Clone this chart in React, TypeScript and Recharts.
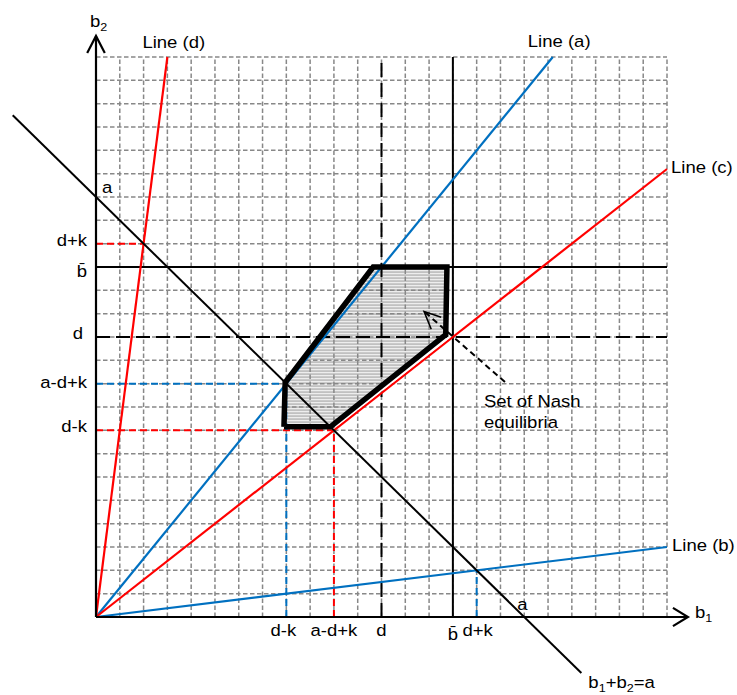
import React from 'react';
import { ComposedChart, XAxis, YAxis, Line, Area, ReferenceDot } from 'recharts';

// ---- chart size & value window (grid units) ----
const W = 737;
const H = 695;
const X_DOMAIN: [number, number] = [-4.035, 26.942];
const Y_DOMAIN: [number, number] = [-3.343, 26.443];

// ---- model parameters (grid units) ----
const A = 18;
const D = 12;
const K = 4;
const B_BAR = 15;

// ---- grid ----
const gridTicks = [1, 2, 3, 4, 5, 6, 7, 8, 9, 10, 11, 12, 13, 14, 15, 16, 17, 18, 19, 20, 21, 22, 23, 24];
const GRID_MAX = 24;

// ---- tick labels ----
const xTickValues = [8, 10, 12, 15, 16];
const xTickLabels = ['d-k', 'a-d+k', 'd', 'b\u0304', 'd+k'];
const yTickValues = [16, 15, 12, 10, 8];
const yTickLabels = ['d+k', 'b\u0304', 'd', 'a-d+k', 'd-k'];

// ---- lines through origin ----
const lineA = [{ x: 0, y: 0 }, { x: 19.2, y: 24 }];
const lineB = [{ x: 0, y: 0 }, { x: 24, y: 3 }];
const lineC = [{ x: 0, y: 0 }, { x: 24, y: 19.2 }];
const lineD = [{ x: 0, y: 0 }, { x: 3, y: 24 }];
// b1 + b2 = a
const sumLine = [{ x: -3.5, y: 21.5 }, { x: 20.4, y: -2.4 }];

// ---- guide lines ----
const bBarH = [{ x: 0, y: B_BAR }, { x: 24, y: B_BAR }];
const bBarV = [{ x: B_BAR, y: 0 }, { x: B_BAR, y: 24 }];
const dH = [{ x: 0, y: D }, { x: 24, y: D }];
const dV = [{ x: D, y: 0 }, { x: D, y: 24 }];
const redDashTop = [{ x: 0, y: D + K }, { x: 2, y: D + K }];
const redDashLowH = [{ x: 0, y: D - K }, { x: A - D + K, y: D - K }];
const redDashLowV = [{ x: A - D + K, y: 0 }, { x: A - D + K, y: D - K }];
const blueDashH = [{ x: 0, y: A - D + K }, { x: D - K, y: A - D + K }];
const blueDashV = [{ x: D - K, y: 0 }, { x: D - K, y: A - D + K }];
const blueDashRight = [{ x: D + K, y: 0 }, { x: D + K, y: 2 }];

// ---- axes ----
const xAxisLine = [{ x: 0, y: 0 }, { x: 24.88, y: 0 }];
const yAxisLine = [{ x: 0, y: 0 }, { x: 0, y: 24.9 }];
const xArrow = [{ x: 24.25, y: 0.39 }, { x: 24.88, y: 0 }, { x: 24.25, y: -0.39 }];
const yArrow = [{ x: -0.37, y: 24.17 }, { x: 0, y: 24.9 }, { x: 0.37, y: 24.17 }];

// ---- set of Nash equilibria ----
const nashVertices = [
  { x: 7.9, y: 8.15 },
  { x: 7.95, y: 10.05 },
  { x: 11.65, y: 15 },
  { x: 14.75, y: 15 },
  { x: 14.7, y: 12.1 },
  { x: 9.85, y: 8.15 },
  { x: 7.9, y: 8.15 },
];
const nashFill = [
  { x: 7.9, range: [8.15, 10.0] },
  { x: 9.85, range: [8.15, 12.55] },
  { x: 11.65, range: [9.62, 15] },
  { x: 14.72, range: [12.1, 15] },
];
const nashGap = [{ x: 10.15, y: 8.24 }, { x: 14.95, y: 12.08 }];
const pointerLine = [{ x: 17.19, y: 10.07 }, { x: 13.83, y: 13.06 }];
const pointerHead = [{ x: 14.51, y: 12.85 }, { x: 13.79, y: 13.09 }, { x: 14.09, y: 12.33 }];

const vGrid = gridTicks.flatMap((t) => [{ x: t, y: 0 }, { x: t, y: GRID_MAX }, { x: t, y: null }]);
const hGrid = gridTicks.flatMap((t) => [{ x: 0, y: t }, { x: GRID_MAX, y: t }, { x: GRID_MAX, y: null }]);

const FONT = "'Liberation Sans', Arial, Helvetica, sans-serif";
const FS = 17;
const SX = 1.09;
const BLUE = '#0070C0';
const RED = '#FF0000';

function labelAt(content: React.ReactNode, dx: number, dy: number, anchor: string = 'start') {
  return (props: any) => {
    const vb = props.viewBox || {};
    const x = (vb.x ?? 0) + (vb.width ?? 0) / 2 + dx;
    const y = (vb.y ?? 0) + (vb.height ?? 0) / 2 + dy;
    return (
      <text
        transform={`translate(${x},${y}) scale(${SX},1)`}
        textAnchor={anchor as any}
        fontFamily={FONT}
        fontSize={FS}
        fill="#000"
      >
        {content}
      </text>
    );
  };
}

function Txt(key: string, x: number, y: number, content: React.ReactNode, dx: number, dy: number, anchor = 'start') {
  return (
    <ReferenceDot
      key={key}
      x={x}
      y={y}
      r={0}
      fill="none"
      stroke="none"
      ifOverflow="visible"
      label={labelAt(content, dx, dy, anchor)}
    />
  );
}

function Seg(key: string, data: any[], stroke: string, width: number, dash?: string, join: any = 'round') {
  return (
    <Line
      key={key}
      data={data}
      dataKey="y"
      stroke={stroke}
      strokeWidth={width}
      strokeDasharray={dash}
      strokeLinejoin={join}
      strokeLinecap="butt"
      dot={false}
      activeDot={false}
      legendType="none"
      isAnimationActive={false}
      type="linear"
    />
  );
}

const sub = (s: string) => (
  <tspan fontSize={11.5} dy={4}>
    {s}
  </tspan>
);

const yTickDx: Record<string, number> = { 'd+k': -9, 'b\u0304': -9, d: -13, 'a-d+k': -9, 'd-k': -9 };
const yTickDy: Record<string, number> = { 'd+k': 2, 'b\u0304': 10, d: 2, 'a-d+k': 4, 'd-k': 2 };
const xTickDx: Record<string, number> = { 'd-k': -3, 'a-d+k': 0, d: 0, 'b\u0304': 0, 'd+k': 1 };
const xTickDy: Record<string, number> = { 'd-k': 19, 'a-d+k': 19, d: 19, 'b\u0304': 23, 'd+k': 19 };

export default function App() {
  return (
    <div style={{ position: 'absolute', left: 0, top: 0, width: W, height: H, background: '#fff' }}>
      <ComposedChart width={W} height={H} margin={{ top: 0, right: 0, bottom: 0, left: 0 }}>
        <defs>
          <pattern id="nashHatch" patternUnits="userSpaceOnUse" width="6" height="3">
            <rect width="6" height="3" fill="#bcbcbc" />
            <rect y="0" width="6" height="1.2" fill="#ececec" />
          </pattern>
        </defs>
        <XAxis type="number" dataKey="x" domain={X_DOMAIN} allowDataOverflow hide />
        <YAxis type="number" domain={Y_DOMAIN} allowDataOverflow hide />

        {Seg('vgrid', vGrid, '#888888', 1.5, '4.5 2.5')}
        {Seg('hgrid', hGrid, '#888888', 1.5, '4.5 2.5')}

        {Seg('redDashTop', redDashTop, RED, 2, '7 4')}
        {Seg('redDashLowH', redDashLowH, RED, 2, '7 4')}
        {Seg('redDashLowV', redDashLowV, RED, 2, '7 4')}
        {Seg('blueDashH', blueDashH, BLUE, 2, '7 4')}
        {Seg('blueDashV', blueDashV, BLUE, 2, '7 4')}
        {Seg('blueDashRight', blueDashRight, BLUE, 2, '7 4')}

        {Seg('dH', dH, '#000', 2, '14 6')}
        {Seg('dV', dV, '#000', 2, '14 6')}
        {Seg('bBarH', bBarH, '#000', 2)}
        {Seg('bBarV', bBarV, '#000', 2)}

        {Seg('lineA', lineA, BLUE, 2.2)}
        {Seg('lineB', lineB, BLUE, 2.2)}
        {Seg('lineC', lineC, RED, 2.2)}
        {Seg('lineD', lineD, RED, 2.2)}
        {Seg('sum', sumLine, '#000', 2)}

        <Area
          data={nashFill}
          dataKey="range"
          type="linear"
          stroke="none"
          fill="url(#nashHatch)"
          fillOpacity={0.92}
          dot={false}
          activeDot={false}
          legendType="none"
          isAnimationActive={false}
        />
        {Seg('nashGap', nashGap, '#fff', 2)}
        {Seg('nashBorder', nashVertices, '#000', 5.5, undefined, 'miter')}
        {Seg('pointer', pointerLine, '#000', 2, '6 4')}
        {Seg('pointerHead', pointerHead, '#000', 1.6, undefined, 'miter')}

        {Seg('xAxis', xAxisLine, '#000', 2.2)}
        {Seg('yAxis', yAxisLine, '#000', 2.2)}
        {Seg('xArrow', xArrow, '#000', 2.2, undefined, 'miter')}
        {Seg('yArrow', yArrow, '#000', 2.2, undefined, 'miter')}

        {yTickValues.map((v, i) =>
          Txt(`yt${i}`, 0, v, yTickLabels[i], yTickDx[yTickLabels[i]], yTickDy[yTickLabels[i]], 'end')
        )}
        {xTickValues.map((v, i) =>
          Txt(`xt${i}`, v, 0, xTickLabels[i], xTickDx[xTickLabels[i]], xTickDy[xTickLabels[i]], 'middle')
        )}

        {Txt('aY', 0, A, 'a', 6, -4)}
        {Txt('aX', A, 0, 'a', -7, -7)}

        {Txt('lblD', 3, 24, 'Line (d)', -25, -9)}
        {Txt('lblA', 19.2, 24, 'Line (a)', -25, -10)}
        {Txt('lblC', 24, 19.2, 'Line (c)', 4, 4)}
        {Txt('lblB', 24, 3, 'Line (b)', 5, 4)}

        {Txt('nash1', B_BAR, D, 'Set of Nash', 31, 70)}
        {Txt('nash2', B_BAR, D, 'equilibria', 31, 91)}

        {Txt('b2', 0, 24, <>b{sub('2')}</>, -6, -30)}
        {Txt('b1', 24, 0, <>b{sub('1')}</>, 28, 1)}
        {Txt(
          'sumLbl',
          20.4,
          -2.4,
          <>
            b{sub('1')}
            <tspan dy={-4}>+b</tspan>
            {sub('2')}
            <tspan dy={-4}>=a</tspan>
          </>,
          7,
          15
        )}
      </ComposedChart>
    </div>
  );
}
